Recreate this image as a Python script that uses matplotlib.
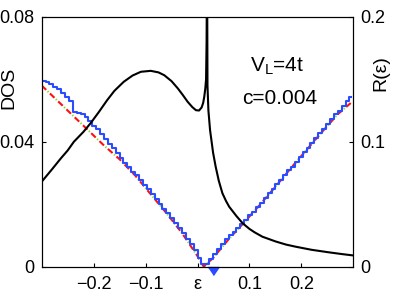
import matplotlib
matplotlib.use('Agg')
import matplotlib.pyplot as plt
import numpy as np

plt.rcParams['font.family'] = ['Liberation Sans', 'DejaVu Sans']
plt.rcParams['mathtext.fontset'] = 'custom'
plt.rcParams['mathtext.rm'] = 'Liberation Sans'
plt.rcParams['mathtext.it'] = 'Liberation Sans:italic'

# DOS, linke Achse
eps_dos = [-0.300, -0.280, -0.263, -0.250, -0.238, -0.220, -0.206, -0.190, -0.174,
           -0.160, -0.142, -0.125, -0.109, -0.090, -0.075, -0.064, -0.050, -0.038,
           -0.028, -0.019, -0.010, -0.003, 0.003, 0.008, 0.011, 0.013, 0.015,
           0.0165, 0.0175, 0.0182, 0.0188, 0.0192, 0.021, 0.0242, 0.030, 0.035,
           0.041, 0.048, 0.055, 0.061, 0.075, 0.087, 0.100, 0.110, 0.125, 0.150,
           0.170, 0.189, 0.220, 0.253, 0.280, 0.300]
dos = [0.0272, 0.0312, 0.0347, 0.0372, 0.0400, 0.0431, 0.0459, 0.0495, 0.0533,
       0.0563, 0.0592, 0.0612, 0.0624, 0.0627, 0.0622, 0.0613, 0.0594, 0.0571,
       0.0549, 0.0528, 0.0511, 0.0501, 0.0500, 0.0510, 0.0525, 0.0544, 0.0570,
       0.0600, 0.0720, 0.0950, 0.0800, 0.0580, 0.0500, 0.0437, 0.0365, 0.0320,
       0.0275, 0.0235, 0.0210, 0.0192, 0.0162, 0.0139, 0.0121, 0.0110, 0.0096,
       0.0081, 0.0071, 0.0064, 0.0054, 0.0046, 0.0040, 0.0036]

# R(eps), Treppe, rechte Achse
eps_r = np.linspace(-0.29625, 0.29625, 80)
r_step = [0.149, 0.148, 0.146, 0.144, 0.142, 0.139, 0.136, 0.133, 0.124, 0.123,
          0.122, 0.120, 0.117, 0.113, 0.110, 0.106, 0.102, 0.098, 0.095, 0.091,
          0.087, 0.083, 0.080, 0.076, 0.073, 0.069, 0.065, 0.062, 0.058, 0.054,
          0.050, 0.046, 0.043, 0.039, 0.035, 0.031, 0.027, 0.022, 0.018, 0.013,
          0.007, 0.002, 0.002, 0.006, 0.010, 0.014, 0.018, 0.022, 0.025, 0.028,
          0.031, 0.034, 0.037, 0.041, 0.044, 0.048, 0.051, 0.055, 0.059, 0.062,
          0.066, 0.069, 0.073, 0.077, 0.080, 0.084, 0.088, 0.092, 0.095, 0.099,
          0.103, 0.107, 0.110, 0.114, 0.118, 0.122, 0.125, 0.129, 0.133, 0.136]

# glatte Kurve (rot gestrichelt / gruen gepunktet)
eps_fit = [-0.300, -0.270, -0.240, -0.210, -0.180, -0.150, -0.120, -0.090, -0.060,
           -0.030, 0.000, 0.012, 0.030, 0.060, 0.090, 0.120, 0.150, 0.180, 0.210,
           0.240, 0.270, 0.295]
r_fit = [0.145, 0.133, 0.121, 0.109, 0.097, 0.086, 0.073, 0.058, 0.043, 0.027,
         0.0085, 0.000, 0.007, 0.022, 0.0355, 0.0495, 0.064, 0.079, 0.0935, 0.108,
         0.122, 0.131]

eps_mark = 0.0304

fig = plt.figure(figsize=(3.95, 3.0), dpi=100)
ax = fig.add_axes([0.1055, 0.111, 0.789, 0.833])
ax2 = ax.twinx()
ax.set_zorder(ax2.get_zorder() + 1)
ax.patch.set_visible(False)

ax2.plot(eps_fit, r_fit, color='#7fe01f', lw=1.5, linestyle=(1.55, (0.6, 4.9)))
ax2.plot(eps_fit, r_fit, color='#ff1010', lw=1.5, linestyle=(0, (3, 2.5)))
ax2.plot(eps_r, r_step, color='#2a4bff', lw=1.5, drawstyle='steps-mid')
tri = [(-0.5, 0), (0.5, 0), (0, -0.73)]
ax2.plot([eps_mark], [0], marker=tri, ms=11.5, color='#2a4bff', ls='none',
         clip_on=False, zorder=5)

ax.plot(eps_dos, dos, color='black', lw=1.5)

ax.set_xlim(-0.3, 0.3)
ax.set_ylim(0, 0.08)
ax2.set_ylim(0, 0.2)

ax.set_xticks([-0.2, -0.1, 0, 0.1, 0.2])
ax.set_xticklabels(['\u22120.2', '\u22120.1', '\u03b5', '0.1', '0.2'])
ax.get_xticklabels()[2].set_fontsize(16)
ax.set_yticks([0, 0.04, 0.08])
ax.set_yticklabels(['0', '0.04', '0.08'])
ax2.set_yticks([0, 0.1, 0.2])
ax2.set_yticklabels(['0', '0.1', '0.2'])

ax.tick_params(axis='x', direction='in', length=3, labelsize=13, pad=7, top=False)
ax.tick_params(axis='y', direction='in', length=3, labelsize=13, pad=5, right=False)
ax2.tick_params(axis='y', direction='in', length=3, labelsize=13, pad=5)

ax.set_ylabel('DOS', fontsize=14)
ax.yaxis.set_label_coords(-0.079, 0.715)
ax2.set_ylabel('R(\u03b5)', fontsize=14)
ax2.yaxis.set_label_coords(1.06, 0.775)

ax.text(0.755, 0.80, r'V$_\mathrm{L}$=4t', transform=ax.transAxes, fontsize=15,
        ha='center', va='center')
ax.text(0.765, 0.673, 'c=0.004', transform=ax.transAxes, fontsize=15,
        ha='center', va='center')

fig.savefig('out.png', dpi=100)
